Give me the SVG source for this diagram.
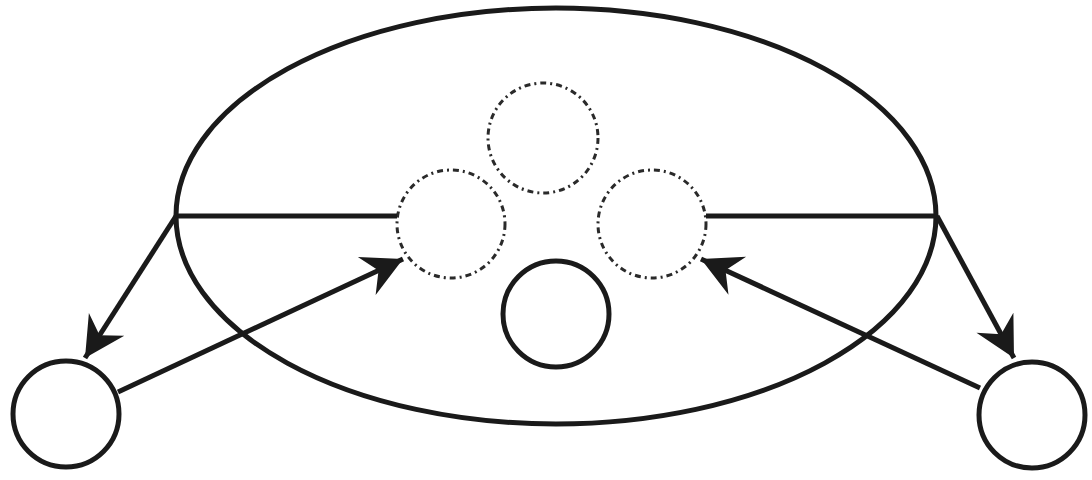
<svg xmlns="http://www.w3.org/2000/svg" width="1092" height="480" viewBox="0 0 1092 480">
<style>
.solid{fill:none;stroke:#1a1a1a;stroke-width:5}
.dash{fill:none;stroke:#2a2a2a;stroke-width:3;stroke-dasharray:6 4 2 4}
.conn{fill:none;stroke:#1a1a1a;stroke-width:5}
</style>
<defs>
<marker id="ah" markerUnits="userSpaceOnUse" markerWidth="50" markerHeight="50" viewBox="-44 -25 50 50" refX="0" refY="0" orient="auto">
<path d="M0,0 L-40,-21 L-27,0 L-40,21 Z" fill="#1a1a1a"/>
</marker>
</defs>
<rect width="1092" height="480" fill="#fff"/>
<g id="outer"><ellipse class="solid" cx="556" cy="216" rx="380" ry="208"/></g>
<g id="top-dashed"><circle class="dash" cx="543" cy="138" r="55"/></g>
<g id="left-dashed"><circle class="dash" cx="451" cy="224" r="54"/></g>
<g id="right-dashed"><circle class="dash" cx="652" cy="224" r="54"/></g>
<g id="center-solid"><circle class="solid" cx="556" cy="314" r="53"/></g>
<g id="left-node"><circle class="solid" cx="66" cy="414" r="53"/></g>
<g id="right-node"><circle class="solid" cx="1032" cy="415" r="53"/></g>
<g id="connectors">
<line class="conn" x1="176" y1="216" x2="397" y2="216"/>
<line class="conn" x1="706" y1="216" x2="937" y2="216"/>
<line class="conn" x1="176" y1="216" x2="85" y2="358" marker-end="url(#ah)"/>
<line class="conn" x1="937" y1="216" x2="1014" y2="358" marker-end="url(#ah)"/>
<line class="conn" x1="118" y1="392" x2="403" y2="259" marker-end="url(#ah)"/>
<line class="conn" x1="980" y1="388" x2="701" y2="259" marker-end="url(#ah)"/>
</g>
</svg>
